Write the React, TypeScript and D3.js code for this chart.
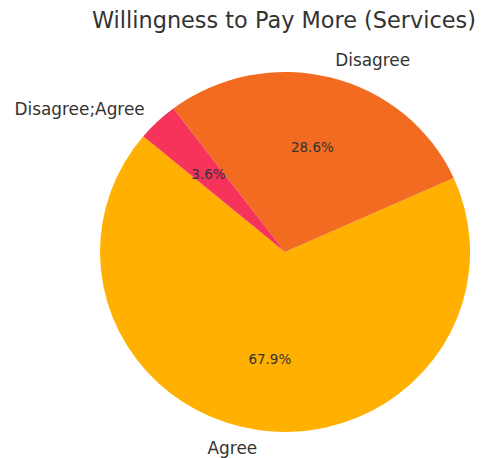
import React from "react";
import * as d3 from "d3";

const categories = ["Agree", "Disagree", "Disagree;Agree"];
const values = [19, 8, 1];
const colors = ["#FFB000", "#F26B21", "#F5335B"];
const title = "Willingness to Pay More (Services)";

const W = 484, H = 458;
const cx = 285, cy = 252, rx = 185, ry = 180;
const startDeg = 140;

export default function App() {
  const total = d3.sum(values);
  const pie = d3.pie<number>().sort(null).value(d => d)
    .startAngle(0).endAngle(2 * Math.PI);
  const arcsData = pie(values);
  const toDeg = (a: number) => startDeg + (a * 180) / Math.PI;
  const arcGen = d3.arc<any>().innerRadius(0).outerRadius(1);
  const slices = arcsData.map((d, i) => {
    const a0 = toDeg(d.startAngle), a1 = toDeg(d.endAngle);
    const s = ((90 - a1) * Math.PI) / 180;
    const e = ((90 - a0) * Math.PI) / 180;
    const path = arcGen({ startAngle: s, endAngle: e }) as string;
    const mid = ((a0 + a1) / 2) * Math.PI / 180;
    return { path, mid, i };
  });
  return (
    <svg width={W} height={H} style={{ position: "absolute", left: 0, top: 0 }}
      fontFamily="DejaVu Sans, sans-serif">
      <rect width={W} height={H} fill="#fff" />
      <text x={284} y={20} textAnchor="middle" dominantBaseline="central"
        fontSize={22.4} fill="#333">{title}</text>
      <g transform={`translate(${cx},${cy}) scale(${rx},${ry})`}>
        {slices.map(s => (
          <path key={s.i} d={s.path} fill={colors[s.i]} />
        ))}
      </g>
      {slices.map(s => {
        const c = Math.cos(s.mid), sn = Math.sin(s.mid);
        const lx = cx + 1.1 * rx * c, ly = cy - 1.1 * ry * sn;
        const px = cx + 0.6 * rx * c, py = cy - 0.6 * ry * sn;
        const pct = ((values[s.i] / total) * 100).toFixed(1) + "%";
        return (
          <g key={"t" + s.i}>
            <text x={lx} y={ly} textAnchor={c > 0 ? "start" : "end"}
              dominantBaseline="central" fontSize={16.9} fill="#333">{categories[s.i]}</text>
            <text x={px} y={py} textAnchor="middle" dominantBaseline="central"
              fontSize={13.5} fill="#333">{pct}</text>
          </g>
        );
      })}
    </svg>
  );
}
